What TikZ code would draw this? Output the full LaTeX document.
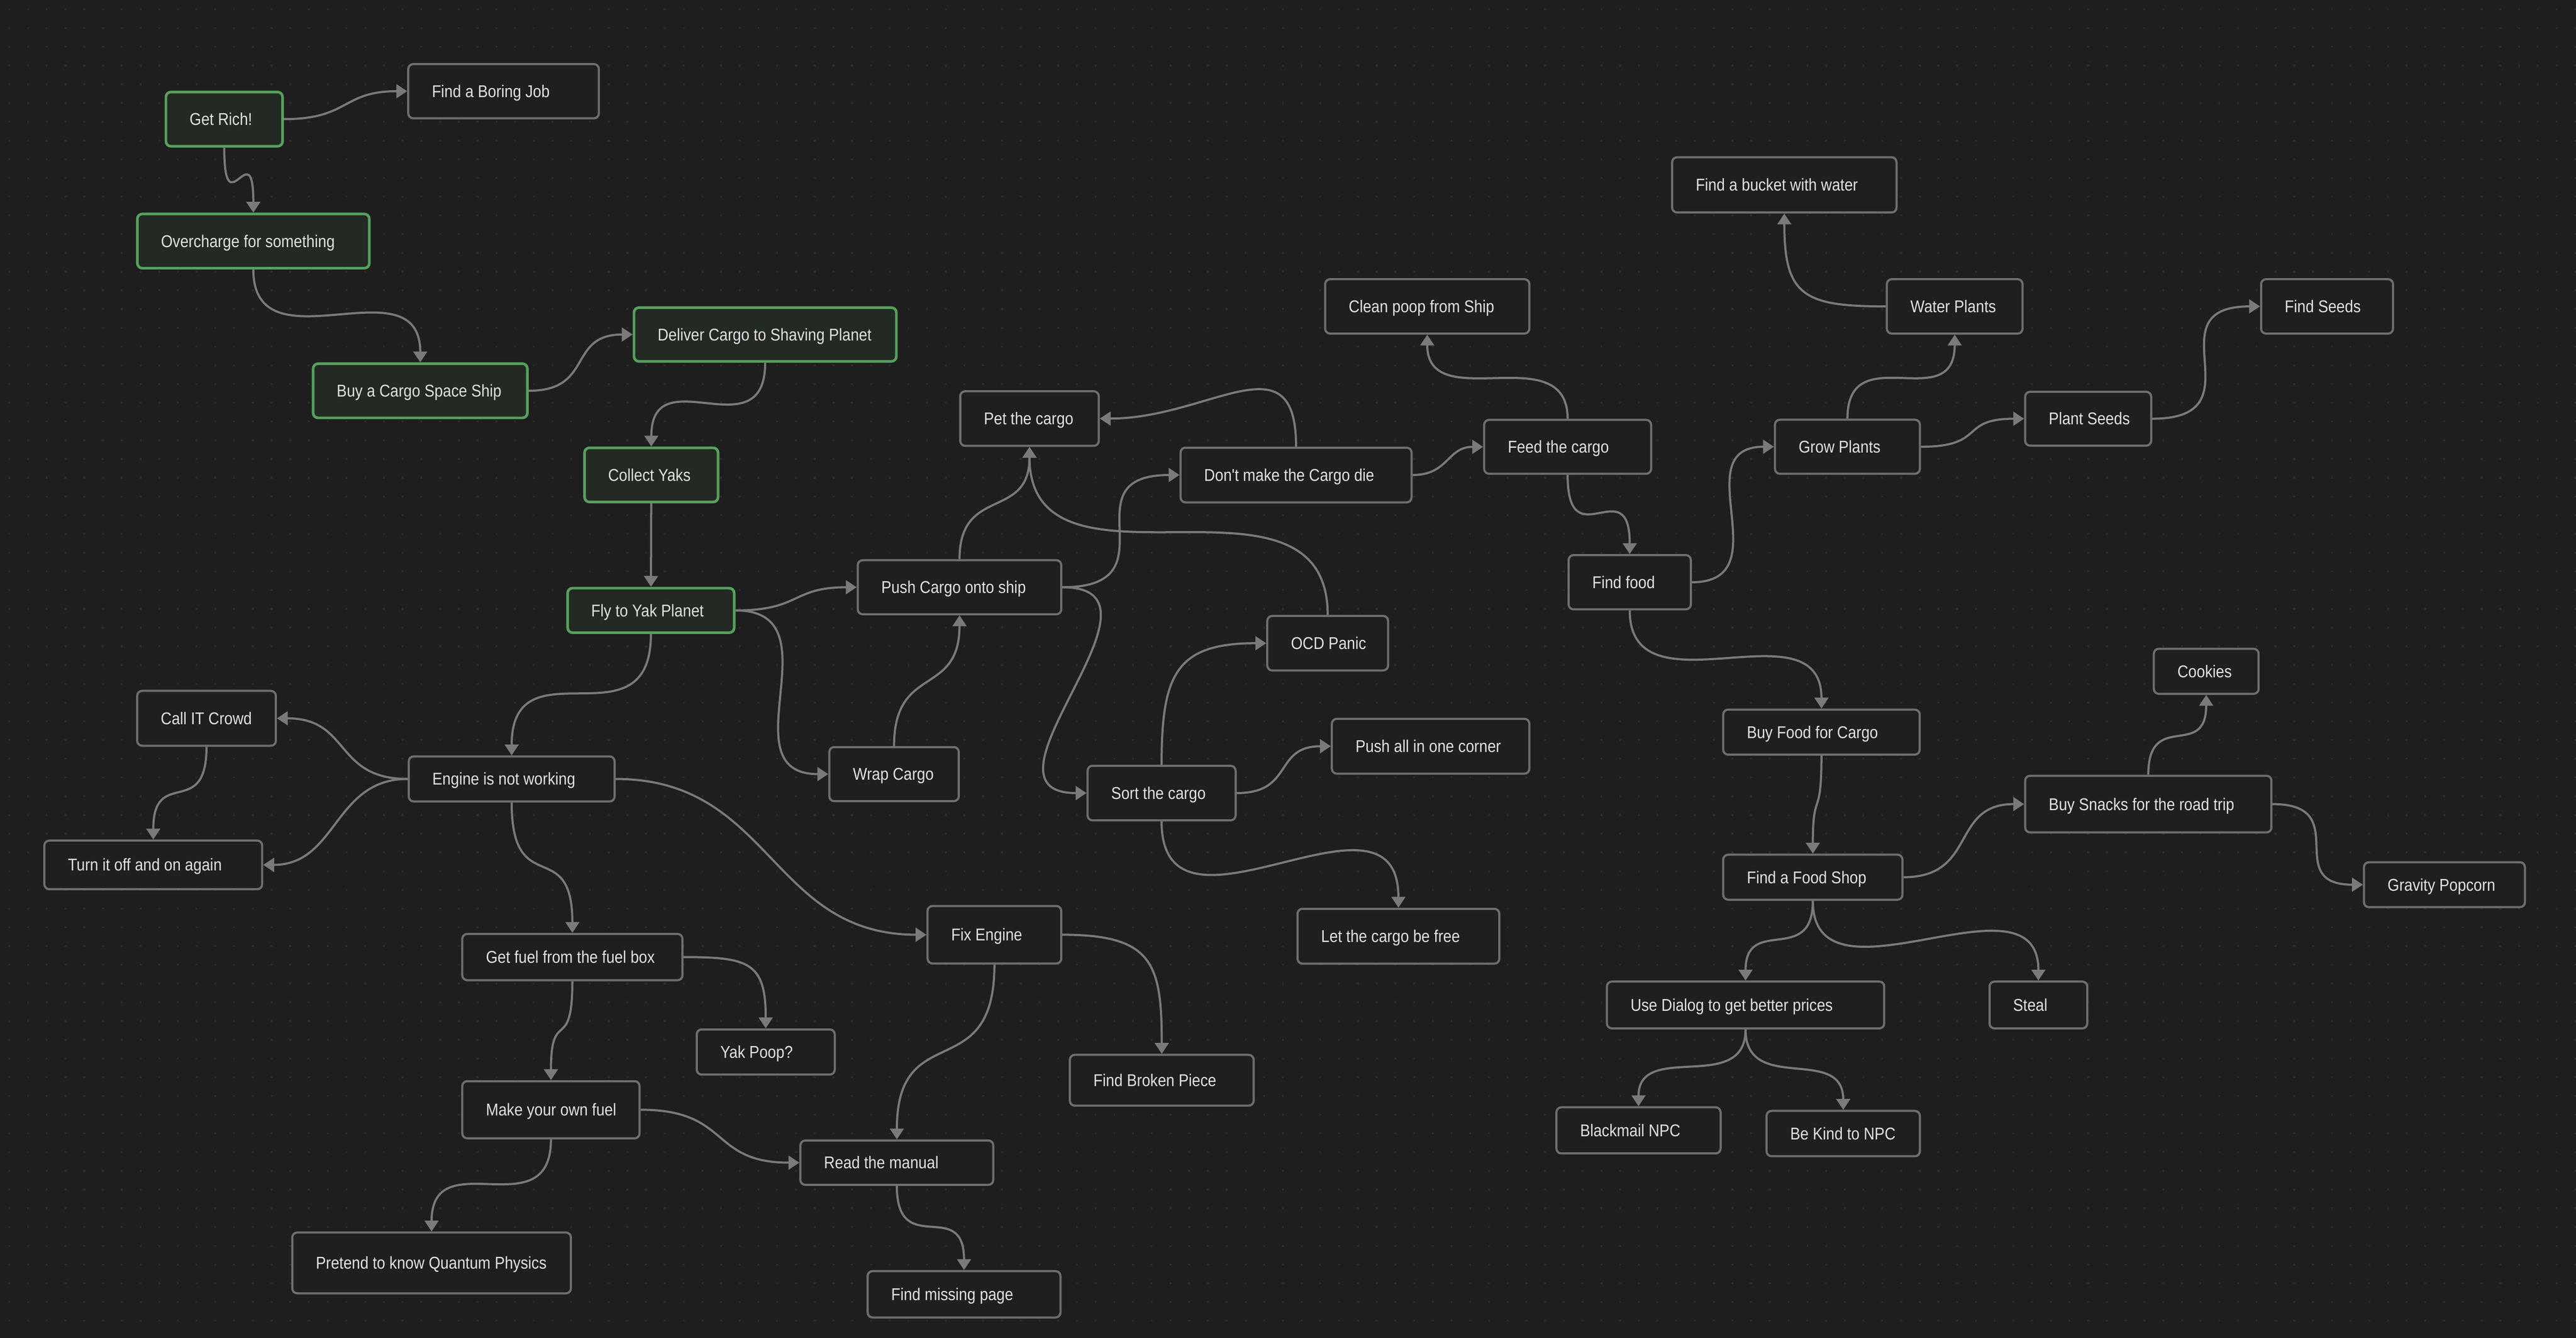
\documentclass[tikz,border=0pt]{standalone}
\usepackage{fontspec}
\newfontfamily\taskfont{Liberation Sans}[FakeStretch=0.88]
\usetikzlibrary{arrows.meta}

\definecolor{canvasbg}{HTML}{1E1E1E}
\definecolor{canvasdot}{HTML}{2C2C2C}
\definecolor{cardline}{HTML}{6E6E6E}
\definecolor{cardfill}{HTML}{1F1F1F}
\definecolor{doneline}{HTML}{56A05C}
\definecolor{donefill}{HTML}{232923}
\definecolor{edgeline}{HTML}{7A7A7A}
\definecolor{cardtext}{HTML}{E2E2E2}

% card label: box width minus the left and right padding
\newcommand{\tasklabel}[2]{\makebox[\dimexpr#1pt-28.8pt\relax][l]{#2}}

\begin{document}
\begin{tikzpicture}[x=1pt,y=-1pt,
	card/.style={draw=cardline, fill=cardfill, line width=1.3pt, rounded corners=3pt,
		inner xsep=14.4pt, inner ysep=0pt, text height=8.8pt, text depth=1.4pt,
		font=\taskfont\fontsize{10.4}{12}\selectfont, text=cardtext},
	done/.style={card, draw=doneline, fill=donefill, line width=1.6pt},
	link/.style={draw=edgeline, line width=1.3pt, -{Triangle[length=6.6pt,width=8.4pt]}}]
		\useasboundingbox (0,0) rectangle (1568,814);
		\fill[canvasbg] (-4,-4) rectangle (1572,818);
		\foreach \row in {0,...,71}
		\draw[canvasdot, line width=1.1pt, dash pattern=on 1.1pt off 10.3pt] (5.15,5.7+\row*11.4) -- (1568,5.7+\row*11.4);

		% left column
		\node[done, minimum height=33pt] (getrich) at (136.5,72.5) {\tasklabel{71}{Get Rich!}};
		\node[card, minimum height=33pt] (boring) at (306.5,55.5) {\tasklabel{116}{Find a Boring Job}};
		\node[done, minimum height=33pt] (overcharge) at (154.2,146.7) {\tasklabel{141.2}{Overcharge for something}};
		\node[done, minimum height=33pt] (buyship) at (255.8,237.8) {\tasklabel{130.4}{Buy a Cargo Space Ship}};
		\node[done, minimum height=32.7pt] (deliver) at (465.75,203.55) {\tasklabel{159.7}{Deliver Cargo to Shaving Planet}};
		\node[done, minimum height=33pt] (collect) at (396.45,289) {\tasklabel{81.3}{Collect Yaks}};
		\node[done, minimum height=27.1pt] (flyyak) at (396.2,371.45) {\tasklabel{101.4}{Fly to Yak Planet}};

		% cargo
		\node[card, minimum height=32.9pt] (pushship) at (584.05,357.35) {\tasklabel{123.9}{Push Cargo onto ship}};
		\node[card, minimum height=33.2pt] (pet) at (626.65,254.7) {\tasklabel{84.3}{Pet the cargo}};
		\node[card, minimum height=32.9pt] (wrap) at (544.2,471.05) {\tasklabel{78.8}{Wrap Cargo}};
		\node[card, minimum height=33.3pt] (dontdie) at (788.9,289.05) {\tasklabel{140.6}{Don't make the Cargo die}};
		\node[card, minimum height=32.8pt] (feed) at (954.2,271.9) {\tasklabel{101.6}{Feed the cargo}};
		\node[card, minimum height=33.1pt] (cleanpoop) at (868.75,186.45) {\tasklabel{124.3}{Clean poop from Ship}};
		\node[card, minimum height=33.2pt] (ocd) at (808.15,391.4) {\tasklabel{73.5}{OCD Panic}};
		\node[card, minimum height=33.4pt] (pushall) at (870.8,454.1) {\tasklabel{120.2}{Push all in one corner}};
		\node[card, minimum height=33.2pt] (sort) at (707.05,482.6) {\tasklabel{90.1}{Sort the cargo}};
		\node[card, minimum height=33.4pt] (letfree) at (851.2,569.7) {\tasklabel{122.8}{Let the cargo be free}};

		% plants
		\node[card, minimum height=33.6pt] (bucket) at (1086.1,112.5) {\tasklabel{136.6}{Find a bucket with water}};
		\node[card, minimum height=33.1pt] (water) at (1189.8,186.45) {\tasklabel{82.6}{Water Plants}};
		\node[card, minimum height=33.1pt] (seeds) at (1416.45,186.45) {\tasklabel{80.3}{Find Seeds}};
		\node[card, minimum height=32.9pt] (grow) at (1124.5,271.85) {\tasklabel{88.2}{Grow Plants}};
		\node[card, minimum height=32.8pt] (plant) at (1271.05,254.8) {\tasklabel{76.7}{Plant Seeds}};
		\node[card, minimum height=33pt] (findfood) at (992,354.3) {\tasklabel{74.4}{Find food}};

		% food
		\node[card, minimum height=27.4pt] (buyfood) at (1108.7,445.5) {\tasklabel{119.6}{Buy Food for Cargo}};
		\node[card, minimum height=27.4pt] (cookies) at (1342.9,408.5) {\tasklabel{63.8}{Cookies}};
		\node[card, minimum height=34.5pt] (snacks) at (1307.65,489.3) {\tasklabel{149.9}{Buy Snacks for the road trip}};
		\node[card, minimum height=27.4pt] (shop) at (1103.45,533.8) {\tasklabel{109.1}{Find a Food Shop}};
		\node[card, minimum height=27.3pt] (popcorn) at (1487.9,538.35) {\tasklabel{98}{Gravity Popcorn}};
		\node[card, minimum height=28.5pt] (dialog) at (1062.5,611.55) {\tasklabel{168.8}{Use Dialog to get better prices}};
		\node[card, minimum height=28.5pt] (steal) at (1240.75,611.55) {\tasklabel{59.5}{Steal}};
		\node[card, minimum height=28.1pt] (blackmail) at (997.35,687.85) {\tasklabel{99.9}{Blackmail NPC}};
		\node[card, minimum height=27.6pt] (bekind) at (1121.95,689.8) {\tasklabel{93.3}{Be Kind to NPC}};

		% engine
		\node[card, minimum height=33.4pt] (callit) at (125.7,437.1) {\tasklabel{84.4}{Call IT Crowd}};
		\node[card, minimum height=27.4pt] (engine) at (311.45,474) {\tasklabel{125.3}{Engine is not working}};
		\node[card, minimum height=29.6pt] (turnoff) at (93.3,526.3) {\tasklabel{132.6}{Turn it off and on again}};
		\node[card, minimum height=28.2pt] (getfuel) at (348.4,582.4) {\tasklabel{134}{Get fuel from the fuel box}};
		\node[card, minimum height=35pt] (fixengine) at (605.3,568.8) {\tasklabel{81.4}{Fix Engine}};
		\node[card, minimum height=27.5pt] (yakpoop) at (466.1,640.15) {\tasklabel{84}{Yak Poop?}};
		\node[card, minimum height=34.8pt] (makefuel) at (335.35,675.3) {\tasklabel{107.9}{Make your own fuel}};
		\node[card, minimum height=30.9pt] (broken) at (707.15,657.35) {\tasklabel{111.9}{Find Broken Piece}};
		\node[card, minimum height=27pt] (manual) at (545.9,707.5) {\tasklabel{117.4}{Read the manual}};
		\node[card, minimum height=37pt] (pretend) at (262.7,768.5) {\tasklabel{169.6}{Pretend to know Quantum Physics}};
		\node[card, minimum height=28.2pt] (missing) at (586.8,787.6) {\tasklabel{117.4}{Find missing page}};

		% links
		\draw[link] (getrich.east) .. controls +(40,0) and +(-40,0) .. (boring.west);
		\draw[link] (getrich.south) .. controls +(0,50) and +(0,-50) .. (overcharge.north);
		\draw[link] (overcharge.south) .. controls +(0,62) and +(0,-62) .. (buyship.north);
		\draw[link] (buyship.east) .. controls +(40,0) and +(-40,0) .. (deliver.west);
		\draw[link] (deliver.south) .. controls +(0,55) and +(0,-55) .. (collect.north);
		\draw[link] (collect) -- (flyyak);
		\draw[link] (flyyak.east) .. controls +(40,0) and +(-40,0) .. (pushship.west);
		\draw[link] (flyyak.east) .. controls +(63,0) and +(-63,0) .. (wrap.west);
		\draw[link] (flyyak.south) .. controls +(0,70) and +(0,-70) .. (engine.north);

		\draw[link] (pushship.north) .. controls +(0,-45) and +(0,45) .. (pet.south);
		\draw[link] (wrap.north) .. controls +(0,-50) and +(0,50) .. (pushship.south);
		\draw[link] (pushship.east) .. controls +(70,0) and +(-70,0) .. (dontdie.west);
		\draw[link] (pushship.east) .. controls +(75,0) and +(-75,0) .. (sort.west);
		\draw[link] (dontdie.north) .. controls +(0,-67) and +(67,0) .. (pet.east);
		\draw[link] (ocd.north) .. controls +(0,-100) and +(0,100) .. (pet.south);
		\draw[link] (dontdie.east) .. controls +(22,0) and +(-22,0) .. (feed.west);
		\draw[link] (feed.north) .. controls +(0,-50) and +(0,50) .. (cleanpoop.south);
		\draw[link] (feed.south) .. controls +(0,52) and +(0,-52) .. (findfood.north);

		\draw[link] (findfood.east) .. controls +(55,0) and +(-55,0) .. (grow.west);
		\draw[link] (grow.north) .. controls +(0,-50) and +(0,50) .. (water.south);
		\draw[link] (water.west) .. controls +(-50,0) and +(0,50) .. (bucket.south);
		\draw[link] (grow.east) .. controls +(40,0) and +(-40,0) .. (plant.west);
		\draw[link] (plant.east) .. controls +(67,0) and +(-67,0) .. (seeds.west);

		\draw[link] (findfood.south) .. controls +(0,65) and +(0,-65) .. (buyfood.north);
		\draw[link] (buyfood.south) .. controls +(0,40) and +(0,-40) .. (shop.north);
		\draw[link] (shop.east) .. controls +(45,0) and +(-45,0) .. (snacks.west);
		\draw[link] (snacks.north) .. controls +(0,-40) and +(0,40) .. (cookies.south);
		\draw[link] (snacks.east) .. controls +(50,0) and +(-50,0) .. (popcorn.west);
		\draw[link] (shop.south) .. controls +(0,40) and +(0,-40) .. (dialog.north);
		\draw[link] (shop.south) .. controls +(0,70) and +(0,-70) .. (steal.north);
		\draw[link] (dialog.south) .. controls +(0,40) and +(0,-40) .. (blackmail.north);
		\draw[link] (dialog.south) .. controls +(0,40) and +(0,-40) .. (bekind.north);

		\draw[link] (sort.north) .. controls +(0,-55) and +(-55,0) .. (ocd.west);
		\draw[link] (sort.east) .. controls +(35,0) and +(-35,0) .. (pushall.west);
		\draw[link] (sort.south) .. controls +(0,85) and +(0,-85) .. (letfree.north);

		\draw[link] (engine.west) .. controls +(-45,0) and +(45,0) .. (callit.east);
		\draw[link] (engine.west) .. controls +(-45,0) and +(45,0) .. (turnoff.east);
		\draw[link] (callit.south) .. controls +(0,45) and +(0,-45) .. (turnoff.north);
		\draw[link] (engine.south) .. controls +(0,60) and +(0,-60) .. (getfuel.north);
		\draw[link] (engine.east) .. controls +(95,0) and +(-95,0) .. (fixengine.west);
		\draw[link] (getfuel.east) .. controls +(40,0) and +(0,-40) .. (yakpoop.north);
		\draw[link] (getfuel.south) .. controls +(0,45) and +(0,-45) .. (makefuel.north);
		\draw[link] (makefuel.east) .. controls +(55,0) and +(-55,0) .. (manual.west);
		\draw[link] (makefuel.south) .. controls +(0,55) and +(0,-55) .. (pretend.north);
		\draw[link] (fixengine.south) .. controls +(0,75) and +(0,-75) .. (manual.north);
		\draw[link] (fixengine.east) .. controls +(55,0) and +(0,-55) .. (broken.north);
		\draw[link] (manual.south) .. controls +(0,45) and +(0,-45) .. (missing.north);
		% \draw[link] (collect.south) .. controls +(0,30) and +(0,-30) .. (flyyak.north);
	\end{tikzpicture}
\end{document}
